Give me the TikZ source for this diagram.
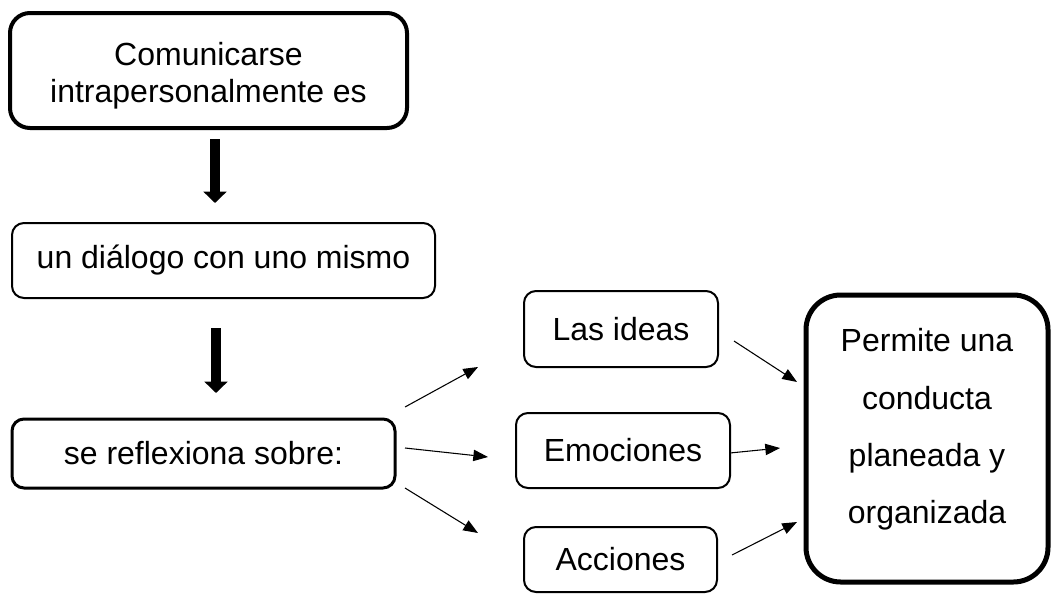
\documentclass[tikz,border=0pt]{standalone}
\usepackage{fontspec}
\setmainfont{Liberation Sans}
\usetikzlibrary{arrows.meta}

\begin{document}
\begin{tikzpicture}
        [x=0.75pt,y=-0.75pt,every node/.style={shape=rectangle,draw,
        align=center,inner sep=2pt,font=\fontsize{24}{28}\selectfont},
        box/.style={rounded corners=9pt,line width=1.5pt},
        bigarrow/.style={line width=7.5pt,-{Triangle[length=8.5pt,width=17pt]}},
        smallarrow/.style={line width=0.8pt,-{Triangle[length=11pt,width=8.5pt]}}]
        \useasboundingbox (0,0) rectangle (1052,593);
        %%
        \node[box,rounded corners=15pt,line width=3pt,minimum width=297.75pt,
          minimum height=86.25pt,text height=53pt] (com) at (208.5,70.5)
          {Comunicarse\\intrapersonalmente es};
        \node[box,minimum width=317.25pt,minimum height=56.25pt]
          (dia) at (223.5,260.5) {un diálogo con uno mismo};
        \node[box,line width=2.25pt,minimum width=287.25pt,minimum height=51.75pt]
          (refl) at (203.5,453.5) {se reflexiona sobre:};
        %%
        \node[box,minimum width=145.5pt,minimum height=57pt]
          (ideas) at (621,329) {Las ideas};
        \node[box,minimum width=160.5pt,minimum height=56.25pt]
          (emo) at (623,450.5) {Emociones};
        \node[box,minimum width=144.75pt,minimum height=48.75pt]
          (acc) at (620.5,559.5) {Acciones};
        %%
        \node[box,rounded corners=26pt,line width=3.75pt,minimum width=181.5pt,
          minimum height=215.25pt,text depth=18.5pt,
          font=\fontsize{24}{43}\selectfont]
          (per) at (927,438.5) {Permite una\\conducta\\planeada y\\organizada};
        %%
        \coordinate (comOut) at (215,139);
        \coordinate (diaIn) at (215,203);
        \coordinate (diaOut) at (216,328);
        \coordinate (reflIn) at (216,393);
        \coordinate (reflA) at (405,407);
        \coordinate (reflB) at (405,448);
        \coordinate (reflC) at (405,488);
        \coordinate (ideasIn) at (478,367);
        \coordinate (emoIn) at (488,457);
        \coordinate (accIn) at (478,533);
        \coordinate (ideasOut) at (734,341);
        \coordinate (emoOut) at (730,453);
        \coordinate (accOut) at (732,555);
        \coordinate (perA) at (797,382);
        \coordinate (perB) at (780,448);
        \coordinate (perC) at (797,522);
        %%
        \foreach \startNode/\endNode in {comOut/diaIn, diaOut/reflIn}
        {
          \draw[bigarrow] (\startNode) -- (\endNode);
        }
        \foreach \startNode/\endNode in {reflA/ideasIn, reflB/emoIn, reflC/accIn,
          ideasOut/perA, emoOut/perB, accOut/perC}
        {
          \draw[smallarrow] (\startNode) -- (\endNode);
        }
\end{tikzpicture}
\end{document}
